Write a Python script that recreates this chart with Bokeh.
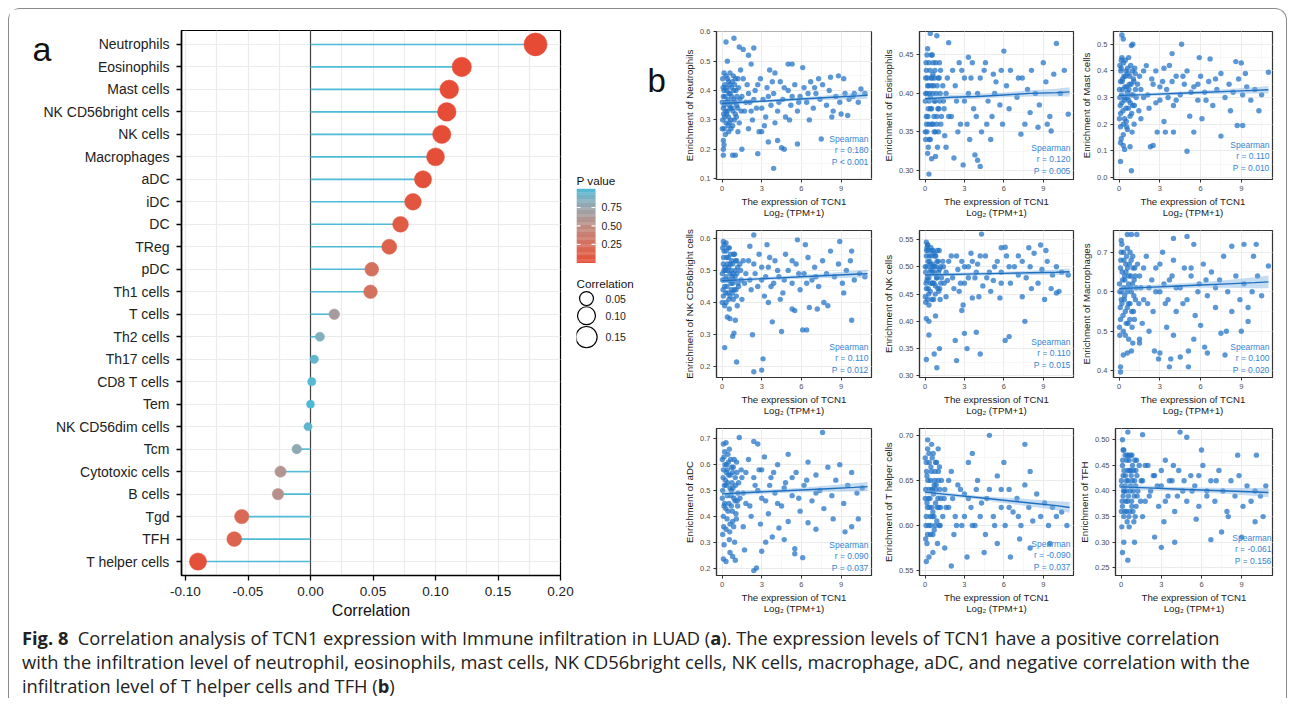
import math
from bokeh.plotting import figure
from bokeh.models import (Range1d, FactorRange, FixedTicker, SingleIntervalTicker, PrintfTickFormatter,
                          LinearColorMapper, Span, Div, ColumnDataSource)
from bokeh.models import Label
from bokeh.layouts import row, column
from bokeh.transform import transform
from bokeh.embed import file_html
from bokeh.resources import INLINE
from bokeh.core.properties import value

FONT = "Liberation Sans"
BLUE = "#2374C6"

# ---------------- panel a data ----------------
cells = ["Neutrophils", "Eosinophils", "Mast cells", "NK CD56bright cells", "NK cells", "Macrophages",
         "aDC", "iDC", "DC", "TReg", "pDC", "Th1 cells", "T cells", "Th2 cells", "Th17 cells",
         "CD8 T cells", "Tem", "NK CD56dim cells", "Tcm", "Cytotoxic cells", "B cells", "Tgd", "TFH",
         "T helper cells"]
correlation = [0.180, 0.121, 0.111, 0.109, 0.105, 0.100, 0.090, 0.082, 0.072, 0.063, 0.049, 0.048,
               0.019, 0.0075, 0.003, 0.001, 0.0, -0.002, -0.011, -0.024, -0.026, -0.055, -0.061, -0.090]
p_values = [0.0001, 0.005, 0.010, 0.012, 0.015, 0.020, 0.037, 0.06, 0.10, 0.15, 0.26, 0.27,
            0.66, 0.86, 0.95, 0.98, 1.0, 0.96, 0.80, 0.58, 0.55, 0.20, 0.156, 0.037]
corr_ticks = [-0.10, -0.05, 0.00, 0.05, 0.10, 0.15, 0.20]
pvalue_ticks = [0.25, 0.50, 0.75]
size_legend = [0.05, 0.10, 0.15]

# ---------------- panel b data ----------------
panel_names = ["Neutrophils", "Eosinophils", "Mast cells", "NK CD56bright cells", "NK cells",
               "Macrophages", "aDC", "T helper cells", "TFH"]
spearman_r = ["0.180", "0.120", "0.110", "0.110", "0.110", "0.100", "0.090", "-0.090", "-0.061"]
spearman_p = ["P < 0.001", "P = 0.005", "P = 0.010", "P = 0.012", "P = 0.015", "P = 0.020",
              "P = 0.037", "P = 0.037", "P = 0.156"]
fit_x = [0, 2, 4, 6, 8, 10, 11]

neutrophils_pts = [
    (0.05, 0.30), (0.1, 0.34), (0.1, 0.38), (0.15, 0.27), (0.2, 0.42), (0.2, 0.31), (0.25, 0.36), (0.3, 0.45),
    (0.3, 0.29), (0.35, 0.40), (0.4, 0.33), (0.45, 0.37), (0.5, 0.26), (0.5, 0.43), (0.55, 0.35), (0.6, 0.39),
    (0.65, 0.30), (0.7, 0.41), (0.75, 0.34), (0.8, 0.28), (0.85, 0.45), (0.9, 0.37), (1.0, 0.32), (1.05, 0.40),
    (1.1, 0.35), (1.2, 0.44), (1.3, 0.29), (0.05, 0.44), (0.15, 0.40), (0.35, 0.32), (0.6, 0.46), (0.95, 0.42),
    (0.25, 0.25), (0.45, 0.28), (0.7, 0.36), (0.1, 0.23),
    (0.02, 0.36), (0.08, 0.41), (0.12, 0.32), (0.18, 0.35), (0.22, 0.38), (0.28, 0.33), (0.32, 0.41), (0.38, 0.36),
    (0.42, 0.44), (0.48, 0.31), (0.52, 0.39), (0.58, 0.42), (0.62, 0.34), (0.68, 0.27), (0.72, 0.38), (0.78, 0.43),
    (0.82, 0.33), (0.88, 0.40), (0.92, 0.30), (0.98, 0.36), (1.02, 0.44), (1.08, 0.31), (1.12, 0.38), (1.18, 0.34),
    (1.25, 0.41), (1.35, 0.37), (1.45, 0.33), (0.02, 0.27), (0.15, 0.46), (0.55, 0.29),
    (1.5, 0.38), (1.7, 0.33), (1.9, 0.42), (2.1, 0.36), (2.3, 0.30), (2.5, 0.40), (2.6, 0.34), (2.9, 0.44),
    (3.1, 0.37), (3.3, 0.31), (3.4, 0.41), (3.7, 0.35), (3.9, 0.39), (4.2, 0.33), (4.4, 0.43), (4.6, 0.37),
    (4.8, 0.31), (5.0, 0.40), (5.2, 0.35), (5.5, 0.42), (5.7, 0.33), (5.9, 0.38), (1.4, 0.47), (2.0, 0.27),
    (3.2, 0.28), (4.0, 0.29), (5.1, 0.30),
    (1.6, 0.44), (1.8, 0.36), (2.0, 0.39), (2.2, 0.33), (2.4, 0.37), (2.7, 0.42), (3.0, 0.34), (3.5, 0.38),
    (3.8, 0.43), (4.3, 0.36), (4.7, 0.41), (5.3, 0.38), (5.8, 0.36), (6.5, 0.39), (7.0, 0.41),
    (6.2, 0.41), (6.4, 0.36), (6.7, 0.43), (6.9, 0.34), (7.1, 0.39), (7.4, 0.37), (7.6, 0.42), (7.9, 0.35),
    (8.1, 0.40), (8.4, 0.33), (8.6, 0.38), (8.9, 0.36), (9.3, 0.39), (9.6, 0.37), (9.9, 0.38), (10.3, 0.36),
    (10.8, 0.39), (8.2, 0.445),
    (0.3, 0.565), (0.9, 0.578), (1.3, 0.548), (1.6, 0.54), (2.0, 0.52), (2.4, 0.545), (0.4, 0.50), (2.2, 0.49),
    (5.0, 0.49), (5.3, 0.49), (6.1, 0.478), (4.0, 0.46), (7.3, 0.44), (8.8, 0.45), (9.2, 0.44), (3.6, 0.47),
    (10.0, 0.39), (10.5, 0.405), (3.9, 0.135), (2.7, 0.185), (0.8, 0.18), (1.0, 0.18), (0.1, 0.18), (0.1, 0.20),
    (0.15, 0.215), (4.5, 0.205), (4.7, 0.20), (5.7, 0.218), (1.5, 0.20), (3.5, 0.225), (4.2, 0.23), (7.5, 0.235),
    (1.2, 0.26), (2.8, 0.26), (3.0, 0.26), (6.6, 0.30), (8.3, 0.31), (9.0, 0.32), (9.5, 0.315),
]
neutrophils_fit = [0.356, 0.361, 0.366, 0.371, 0.376, 0.381, 0.384]
neutrophils_ci = [0.008, 0.005, 0.005, 0.006, 0.008, 0.011, 0.012]

eosinophils_pts = [
    (0.05, 0.40), (0.1, 0.37), (0.1, 0.43), (0.15, 0.35), (0.2, 0.41), (0.25, 0.38), (0.3, 0.44), (0.3, 0.36),
    (0.35, 0.40), (0.4, 0.34), (0.45, 0.42), (0.5, 0.38), (0.55, 0.45), (0.6, 0.36), (0.65, 0.41), (0.7, 0.39),
    (0.75, 0.43), (0.8, 0.35), (0.85, 0.40), (0.9, 0.37), (1.0, 0.42), (1.05, 0.38), (1.1, 0.44), (1.2, 0.36),
    (0.05, 0.34), (0.15, 0.45), (0.4, 0.395), (0.6, 0.425), (0.95, 0.33), (0.25, 0.33), (0.7, 0.35), (1.15, 0.40),
    (0.5, 0.41), (0.05, 0.42), (0.3, 0.39),
    (0.02, 0.39), (0.08, 0.44), (0.12, 0.36), (0.18, 0.42), (0.22, 0.37), (0.28, 0.41), (0.32, 0.34), (0.38, 0.43),
    (0.42, 0.38), (0.48, 0.45), (0.52, 0.36), (0.58, 0.40), (0.62, 0.44), (0.68, 0.37), (0.72, 0.42), (0.78, 0.39),
    (0.82, 0.44), (0.88, 0.36), (0.92, 0.41), (0.98, 0.38), (1.02, 0.35), (1.08, 0.42), (1.12, 0.39), (1.18, 0.43),
    (1.25, 0.37), (1.35, 0.41), (1.45, 0.38), (0.02, 0.35), (0.15, 0.40), (0.55, 0.42),
    (1.4, 0.39), (1.7, 0.42), (2.0, 0.37), (2.3, 0.41), (2.5, 0.35), (2.8, 0.43), (3.0, 0.39), (3.2, 0.36),
    (3.5, 0.42), (3.7, 0.38), (4.0, 0.40), (4.3, 0.35), (4.5, 0.43), (4.8, 0.39), (5.1, 0.37), (5.4, 0.415),
    (5.7, 0.385), (5.9, 0.36), (1.5, 0.345), (2.6, 0.44), (4.6, 0.44), (5.2, 0.425), (3.4, 0.34),
    (1.6, 0.40), (1.8, 0.37), (2.1, 0.43), (2.4, 0.39), (2.7, 0.36), (3.0, 0.42), (3.3, 0.40), (3.6, 0.44),
    (3.9, 0.37), (4.2, 0.42), (4.7, 0.36), (5.3, 0.40), (5.8, 0.43), (6.4, 0.38), (7.1, 0.42),
    (6.2, 0.41), (6.5, 0.43), (7.0, 0.395), (7.4, 0.42), (7.8, 0.405), (8.1, 0.43), (8.4, 0.40), (8.7, 0.385),
    (9.0, 0.44), (9.2, 0.415), (9.5, 0.37), (9.8, 0.425), (10.3, 0.40), (10.6, 0.43), (8.0, 0.375), (7.6, 0.36),
    (0.4, 0.478), (0.9, 0.475), (0.2, 0.458), (1.8, 0.466), (10.0, 0.465), (6.0, 0.455), (3.3, 0.447),
    (0.3, 0.295), (0.5, 0.315), (0.2, 0.322), (0.8, 0.318), (2.2, 0.316), (2.9, 0.307), (4.2, 0.305),
    (3.8, 0.32), (4.0, 0.313), (1.6, 0.33), (5.0, 0.34), (7.3, 0.347), (8.6, 0.356), (9.3, 0.36), (9.6, 0.351),
    (10.9, 0.373),
]
eosinophils_fit = [0.393, 0.395, 0.396, 0.398, 0.400, 0.401, 0.402]
eosinophils_ci = [0.004, 0.003, 0.003, 0.003, 0.004, 0.005, 0.006]

mast_pts = [
    (0.05, 0.30), (0.1, 0.36), (0.1, 0.24), (0.15, 0.41), (0.2, 0.28), (0.25, 0.33), (0.3, 0.20), (0.35, 0.38),
    (0.4, 0.30), (0.45, 0.44), (0.5, 0.26), (0.55, 0.34), (0.6, 0.18), (0.65, 0.39), (0.7, 0.29), (0.75, 0.35),
    (0.8, 0.23), (0.85, 0.42), (0.9, 0.31), (1.0, 0.27), (1.05, 0.37), (1.1, 0.20), (1.2, 0.33), (0.05, 0.42),
    (0.2, 0.45), (0.3, 0.16), (0.5, 0.40), (0.7, 0.45), (0.95, 0.17), (1.15, 0.41), (0.4, 0.22), (0.6, 0.32),
    (0.25, 0.37), (0.1, 0.19),
    (0.02, 0.33), (0.08, 0.27), (0.12, 0.40), (0.18, 0.31), (0.22, 0.36), (0.28, 0.25), (0.32, 0.43), (0.38, 0.29),
    (0.42, 0.34), (0.48, 0.38), (0.52, 0.21), (0.58, 0.30), (0.62, 0.41), (0.68, 0.26), (0.72, 0.33), (0.78, 0.38),
    (0.82, 0.28), (0.88, 0.35), (0.92, 0.24), (0.98, 0.40), (1.02, 0.31), (1.08, 0.36), (1.12, 0.27), (1.18, 0.39),
    (1.25, 0.30), (1.35, 0.35), (1.45, 0.25), (0.02, 0.22), (0.15, 0.44), (0.55, 0.19),
    (1.5, 0.38), (1.8, 0.30), (2.0, 0.42), (2.2, 0.26), (2.5, 0.35), (2.7, 0.40), (3.0, 0.29), (3.2, 0.36),
    (3.5, 0.33), (3.7, 0.42), (4.0, 0.27), (4.2, 0.38), (4.5, 0.31), (4.8, 0.35), (5.0, 0.40), (5.2, 0.23),
    (5.5, 0.34), (5.8, 0.29), (6.0, 0.38), (6.3, 0.32), (6.6, 0.36), (6.9, 0.27), (7.2, 0.33), (7.5, 0.39),
    (7.8, 0.30), (8.1, 0.35), (8.4, 0.32), (8.8, 0.37), (9.1, 0.31), (9.4, 0.34), (9.7, 0.29), (10.0, 0.33),
    (10.5, 0.31), (1.6, 0.22), (3.3, 0.21), (6.1, 0.22), (8.2, 0.25), (9.3, 0.39),
    (1.6, 0.33), (1.8, 0.40), (2.1, 0.31), (2.4, 0.37), (2.7, 0.28), (3.0, 0.34), (3.3, 0.41), (3.6, 0.30),
    (3.9, 0.36), (4.2, 0.29), (4.7, 0.38), (5.3, 0.32), (5.8, 0.35), (6.4, 0.29), (7.1, 0.37),
    (0.2, 0.535), (0.3, 0.52), (0.9, 0.495), (1.0, 0.50), (0.1, 0.06), (0.9, 0.025), (0.3, 0.12), (0.4, 0.105),
    (0.8, 0.115), (0.1, 0.13), (0.15, 0.145), (2.3, 0.115), (2.5, 0.12), (5.0, 0.098), (4.6, 0.50), (3.9, 0.465),
    (5.9, 0.45), (6.7, 0.445), (8.6, 0.435), (9.0, 0.43), (11.0, 0.395), (7.5, 0.155), (8.7, 0.195), (9.1, 0.195),
    (10.3, 0.25), (3.4, 0.17), (4.0, 0.17), (5.5, 0.17), (2.8, 0.17),
]
mast_fit = [0.308, 0.311, 0.315, 0.319, 0.323, 0.327, 0.329]
mast_ci = [0.008, 0.006, 0.006, 0.007, 0.009, 0.012, 0.014]

nkbright_pts = [
    (0.05, 0.47), (0.1, 0.52), (0.1, 0.42), (0.15, 0.56), (0.2, 0.45), (0.25, 0.50), (0.3, 0.40), (0.35, 0.54),
    (0.4, 0.47), (0.45, 0.43), (0.5, 0.51), (0.55, 0.38), (0.6, 0.49), (0.65, 0.55), (0.7, 0.44), (0.75, 0.48),
    (0.8, 0.52), (0.85, 0.41), (0.9, 0.47), (1.0, 0.50), (1.05, 0.44), (1.1, 0.53), (1.2, 0.46), (0.05, 0.57),
    (0.2, 0.39), (0.3, 0.48), (0.45, 0.57), (0.6, 0.42), (0.8, 0.46), (0.95, 0.55), (1.15, 0.39), (0.15, 0.50),
    (0.4, 0.52), (0.7, 0.50),
    (0.02, 0.49), (0.08, 0.44), (0.12, 0.54), (0.18, 0.47), (0.22, 0.51), (0.28, 0.43), (0.32, 0.56), (0.38, 0.45),
    (0.42, 0.50), (0.48, 0.54), (0.52, 0.41), (0.58, 0.47), (0.62, 0.52), (0.68, 0.46), (0.72, 0.53), (0.78, 0.43),
    (0.82, 0.49), (0.88, 0.55), (0.92, 0.44), (0.98, 0.48), (1.02, 0.53), (1.08, 0.42), (1.12, 0.49), (1.18, 0.51),
    (1.25, 0.45), (1.35, 0.52), (1.45, 0.47), (0.02, 0.40), (0.15, 0.58), (0.55, 0.57),
    (1.4, 0.50), (1.7, 0.46), (2.0, 0.53), (2.2, 0.44), (2.5, 0.49), (2.8, 0.55), (3.0, 0.47), (3.2, 0.42),
    (3.5, 0.51), (3.7, 0.45), (4.0, 0.53), (4.3, 0.48), (4.6, 0.43), (4.8, 0.55), (5.0, 0.50), (5.3, 0.46),
    (5.6, 0.52), (5.9, 0.44), (6.2, 0.49), (6.5, 0.54), (6.8, 0.47), (7.0, 0.51), (7.3, 0.45), (7.6, 0.53),
    (7.9, 0.49), (8.2, 0.56), (8.5, 0.48), (8.8, 0.52), (9.1, 0.46), (9.4, 0.50), (9.7, 0.53), (10.0, 0.47),
    (10.4, 0.49), (10.8, 0.48), (1.5, 0.41), (3.5, 0.40), (4.4, 0.41), (9.2, 0.43),
    (1.6, 0.53), (1.8, 0.49), (2.1, 0.47), (2.4, 0.52), (2.7, 0.45), (3.0, 0.51), (3.3, 0.48), (3.6, 0.54),
    (3.9, 0.46), (4.2, 0.50), (4.7, 0.47), (5.3, 0.53), (5.8, 0.49), (6.4, 0.46), (7.1, 0.48),
    (2.4, 0.61), (2.1, 0.575), (0.3, 0.585), (0.1, 0.59), (3.4, 0.58), (5.7, 0.595), (8.9, 0.59), (9.8, 0.56),
    (6.3, 0.58), (0.2, 0.26), (1.1, 0.215), (2.4, 0.185), (3.0, 0.19), (3.1, 0.225), (0.8, 0.295), (0.9, 0.305),
    (2.3, 0.30), (4.5, 0.31), (6.1, 0.315), (6.4, 0.315), (3.8, 0.34), (1.0, 0.345), (0.4, 0.355), (0.6, 0.35),
    (9.8, 0.345), (5.3, 0.38), (5.5, 0.375), (6.6, 0.385), (7.2, 0.38), (8.0, 0.39), (7.7, 0.40),
]
nkbright_fit = [0.468, 0.472, 0.476, 0.480, 0.484, 0.488, 0.490]
nkbright_ci = [0.007, 0.005, 0.005, 0.006, 0.008, 0.011, 0.012]

nk_pts = [
    (0.05, 0.49), (0.1, 0.52), (0.1, 0.46), (0.15, 0.50), (0.2, 0.44), (0.25, 0.53), (0.3, 0.48), (0.35, 0.51),
    (0.4, 0.455), (0.45, 0.495), (0.5, 0.53), (0.55, 0.47), (0.6, 0.505), (0.65, 0.44), (0.7, 0.49), (0.75, 0.52),
    (0.8, 0.465), (0.85, 0.50), (0.9, 0.48), (1.0, 0.51), (1.05, 0.455), (1.1, 0.495), (1.2, 0.47), (0.05, 0.435),
    (0.2, 0.54), (0.3, 0.43), (0.45, 0.535), (0.6, 0.47), (0.95, 0.53), (1.15, 0.44), (0.15, 0.475), (0.4, 0.505),
    (0.7, 0.525), (0.25, 0.46),
    (0.02, 0.50), (0.08, 0.47), (0.12, 0.53), (0.18, 0.48), (0.22, 0.51), (0.28, 0.45), (0.32, 0.52), (0.38, 0.49),
    (0.42, 0.47), (0.48, 0.52), (0.52, 0.44), (0.58, 0.49), (0.62, 0.53), (0.68, 0.47), (0.72, 0.50), (0.78, 0.45),
    (0.82, 0.52), (0.88, 0.48), (0.92, 0.51), (0.98, 0.46), (1.02, 0.49), (1.08, 0.53), (1.12, 0.46), (1.18, 0.50),
    (1.25, 0.48), (1.35, 0.51), (1.45, 0.47), (0.02, 0.445), (0.15, 0.535), (0.55, 0.50),
    (1.4, 0.50), (1.7, 0.475), (2.0, 0.52), (2.2, 0.46), (2.5, 0.495), (2.8, 0.51), (3.0, 0.47), (3.3, 0.50),
    (3.5, 0.525), (3.8, 0.48), (4.0, 0.505), (4.4, 0.465), (4.6, 0.52), (4.9, 0.49), (5.2, 0.475), (5.5, 0.51),
    (5.8, 0.49), (6.2, 0.52), (6.5, 0.47), (6.8, 0.50), (7.1, 0.485), (7.4, 0.51), (7.7, 0.48), (8.0, 0.50),
    (8.3, 0.525), (8.6, 0.47), (8.9, 0.495), (9.3, 0.51), (9.7, 0.485), (10.0, 0.50), (10.4, 0.49), (10.9, 0.485),
    (1.6, 0.445), (2.6, 0.455), (5.0, 0.455), (8.1, 0.46),
    (1.6, 0.49), (1.8, 0.51), (2.1, 0.48), (2.4, 0.52), (2.7, 0.47), (3.0, 0.50), (3.3, 0.48), (3.6, 0.51),
    (3.9, 0.49), (4.2, 0.52), (4.7, 0.48), (5.3, 0.50), (5.8, 0.47), (6.4, 0.50), (7.1, 0.52),
    (4.3, 0.56), (0.1, 0.545), (0.2, 0.54), (6.1, 0.536), (5.8, 0.535), (7.9, 0.535), (8.8, 0.54), (9.2, 0.53),
    (0.1, 0.405), (0.3, 0.40), (0.8, 0.41), (0.3, 0.375), (0.1, 0.33), (0.7, 0.34), (0.9, 0.315), (1.1, 0.35),
    (2.4, 0.328), (2.3, 0.365), (3.0, 0.378), (3.2, 0.35), (3.9, 0.38), (4.2, 0.34), (6.1, 0.365), (6.4, 0.372),
    (7.6, 0.40), (2.9, 0.43), (2.8, 0.42), (3.6, 0.443), (4.1, 0.445), (5.7, 0.443), (7.4, 0.445), (9.1, 0.44),
    (9.6, 0.46), (10.0, 0.452), (10.2, 0.455),
]
nk_fit = [0.485, 0.486, 0.487, 0.488, 0.489, 0.490, 0.491]
nk_ci = [0.004, 0.003, 0.003, 0.003, 0.004, 0.005, 0.006]

macrophages_pts = [
    (0.05, 0.60), (0.1, 0.66), (0.1, 0.53), (0.15, 0.70), (0.2, 0.57), (0.25, 0.63), (0.3, 0.50), (0.35, 0.68),
    (0.4, 0.59), (0.45, 0.55), (0.5, 0.65), (0.55, 0.61), (0.6, 0.71), (0.65, 0.52), (0.7, 0.62), (0.75, 0.67),
    (0.8, 0.57), (0.85, 0.64), (0.9, 0.60), (1.0, 0.69), (1.05, 0.55), (1.1, 0.63), (1.2, 0.58), (0.05, 0.49),
    (0.2, 0.72), (0.3, 0.61), (0.45, 0.49), (0.6, 0.56), (0.8, 0.70), (0.95, 0.51), (1.15, 0.66), (0.15, 0.58),
    (0.4, 0.64), (0.7, 0.48),
    (0.02, 0.62), (0.08, 0.56), (0.12, 0.68), (0.18, 0.60), (0.22, 0.65), (0.28, 0.54), (0.32, 0.70), (0.38, 0.58),
    (0.42, 0.63), (0.48, 0.67), (0.52, 0.52), (0.58, 0.60), (0.62, 0.66), (0.68, 0.57), (0.72, 0.64), (0.78, 0.53),
    (0.82, 0.61), (0.88, 0.68), (0.92, 0.55), (0.98, 0.62), (1.02, 0.66), (1.08, 0.59), (1.12, 0.53), (1.18, 0.64),
    (1.25, 0.61), (1.35, 0.67), (1.45, 0.57), (0.02, 0.51), (0.15, 0.73), (0.55, 0.69),
    (1.5, 0.64), (1.8, 0.58), (2.0, 0.69), (2.2, 0.61), (2.5, 0.55), (2.7, 0.66), (3.0, 0.60), (3.2, 0.70),
    (3.4, 0.57), (3.7, 0.63), (4.0, 0.68), (4.2, 0.55), (4.5, 0.61), (4.8, 0.66), (5.0, 0.58), (5.3, 0.64),
    (5.6, 0.54), (5.9, 0.62), (6.2, 0.67), (6.5, 0.59), (6.8, 0.65), (7.1, 0.56), (7.4, 0.63), (7.7, 0.69),
    (8.0, 0.60), (8.3, 0.55), (8.6, 0.64), (8.9, 0.58), (9.2, 0.62), (9.5, 0.56), (9.8, 0.60), (10.2, 0.64),
    (10.5, 0.59), (1.7, 0.52), (3.5, 0.51), (6.0, 0.515), (9.5, 0.525),
    (1.6, 0.61), (1.8, 0.66), (2.1, 0.57), (2.4, 0.63), (2.7, 0.60), (3.0, 0.67), (3.3, 0.62), (3.6, 0.58),
    (3.9, 0.64), (4.2, 0.61), (4.7, 0.57), (5.3, 0.66), (5.8, 0.60), (6.4, 0.63), (7.1, 0.61),
    (0.1, 0.41), (0.1, 0.397), (0.6, 0.445), (0.3, 0.44), (0.9, 0.45), (1.0, 0.47), (1.5, 0.47), (1.5, 0.48),
    (2.6, 0.45), (2.9, 0.43), (3.0, 0.445), (3.8, 0.43), (4.5, 0.435), (5.1, 0.41), (5.1, 0.45), (3.7, 0.41),
    (6.3, 0.46), (6.5, 0.445), (7.8, 0.44), (2.2, 0.50), (4.0, 0.49), (5.5, 0.48), (7.5, 0.495), (7.9, 0.50),
    (9.0, 0.50), (0.6, 0.745), (0.9, 0.745), (1.3, 0.745), (4.0, 0.735), (5.0, 0.74), (5.5, 0.72), (8.3, 0.715),
    (9.2, 0.72), (10.1, 0.72), (11.0, 0.665), (9.9, 0.69),
]
macrophages_fit = [0.608, 0.611, 0.614, 0.617, 0.620, 0.623, 0.625]
macrophages_ci = [0.008, 0.006, 0.006, 0.007, 0.010, 0.014, 0.016]

adc_pts = [
    (0.05, 0.50), (0.1, 0.58), (0.1, 0.40), (0.15, 0.63), (0.2, 0.45), (0.25, 0.54), (0.3, 0.35), (0.35, 0.60),
    (0.4, 0.48), (0.45, 0.42), (0.5, 0.56), (0.55, 0.31), (0.6, 0.51), (0.65, 0.62), (0.7, 0.44), (0.75, 0.53),
    (0.8, 0.38), (0.85, 0.59), (0.9, 0.47), (1.0, 0.55), (1.05, 0.41), (1.1, 0.61), (1.2, 0.49), (0.05, 0.33),
    (0.2, 0.65), (0.3, 0.52), (0.45, 0.64), (0.6, 0.37), (0.8, 0.57), (0.95, 0.30), (1.15, 0.46), (0.15, 0.29),
    (0.4, 0.58), (0.7, 0.50),
    (0.02, 0.47), (0.08, 0.55), (0.12, 0.36), (0.18, 0.52), (0.22, 0.60), (0.28, 0.43), (0.32, 0.57), (0.38, 0.39),
    (0.42, 0.53), (0.48, 0.61), (0.52, 0.45), (0.58, 0.34), (0.62, 0.56), (0.68, 0.48), (0.72, 0.59), (0.78, 0.42),
    (0.82, 0.51), (0.88, 0.36), (0.92, 0.62), (0.98, 0.46), (1.02, 0.52), (1.08, 0.39), (1.12, 0.57), (1.18, 0.44),
    (1.25, 0.53), (1.35, 0.47), (1.45, 0.58), (0.02, 0.62), (0.15, 0.44), (0.55, 0.66),
    (1.5, 0.55), (1.8, 0.45), (2.0, 0.62), (2.2, 0.40), (2.5, 0.52), (2.8, 0.58), (3.0, 0.47), (3.2, 0.63),
    (3.5, 0.41), (3.7, 0.55), (4.0, 0.49), (4.2, 0.60), (4.5, 0.44), (4.8, 0.53), (5.0, 0.64), (5.3, 0.48),
    (5.6, 0.57), (5.9, 0.42), (6.2, 0.52), (6.5, 0.61), (6.8, 0.46), (7.1, 0.56), (7.4, 0.50), (7.7, 0.43),
    (8.0, 0.59), (8.3, 0.48), (8.6, 0.54), (8.9, 0.60), (9.2, 0.45), (9.5, 0.52), (9.8, 0.57), (10.2, 0.49),
    (10.6, 0.51), (1.6, 0.36), (2.9, 0.37), (5.0, 0.38), (8.4, 0.39),
    (1.6, 0.49), (1.8, 0.57), (2.1, 0.44), (2.4, 0.55), (2.7, 0.50), (3.0, 0.58), (3.3, 0.46), (3.6, 0.52),
    (3.9, 0.57), (4.2, 0.45), (4.7, 0.51), (5.3, 0.55), (5.8, 0.47), (6.4, 0.54), (7.1, 0.49),
    (7.6, 0.725), (1.3, 0.705), (2.4, 0.69), (2.7, 0.68), (0.1, 0.68), (0.3, 0.685), (0.1, 0.235), (0.3, 0.225),
    (0.6, 0.26), (0.8, 0.245), (1.0, 0.23), (2.4, 0.19), (2.6, 0.20), (3.0, 0.265), (3.3, 0.30), (4.7, 0.31),
    (5.5, 0.275), (5.5, 0.255), (6.1, 0.24), (9.3, 0.34), (9.8, 0.36), (10.3, 0.39), (7.1, 0.35), (6.5, 0.375),
    (1.7, 0.27), (3.8, 0.32), (4.3, 0.355),
]
adc_fit = [0.487, 0.492, 0.497, 0.502, 0.507, 0.512, 0.515]
adc_ci = [0.010, 0.008, 0.008, 0.009, 0.012, 0.016, 0.018]

thelper_pts = [
    (0.05, 0.64), (0.1, 0.67), (0.1, 0.61), (0.15, 0.655), (0.2, 0.59), (0.25, 0.63), (0.3, 0.68), (0.35, 0.62),
    (0.4, 0.65), (0.45, 0.60), (0.5, 0.64), (0.55, 0.675), (0.6, 0.615), (0.65, 0.635), (0.7, 0.595), (0.75, 0.66),
    (0.8, 0.625), (0.85, 0.645), (0.9, 0.605), (1.0, 0.65), (1.05, 0.62), (1.1, 0.665), (1.2, 0.63), (0.05, 0.585),
    (0.2, 0.685), (0.3, 0.64), (0.45, 0.665), (0.6, 0.59), (0.8, 0.67), (0.95, 0.58), (1.15, 0.60), (0.15, 0.625),
    (0.4, 0.61), (0.7, 0.645),
    (0.02, 0.63), (0.08, 0.60), (0.12, 0.66), (0.18, 0.62), (0.22, 0.65), (0.28, 0.60), (0.32, 0.67), (0.38, 0.63),
    (0.42, 0.59), (0.48, 0.66), (0.52, 0.62), (0.58, 0.64), (0.62, 0.68), (0.68, 0.61), (0.72, 0.65), (0.78, 0.60),
    (0.82, 0.64), (0.88, 0.67), (0.92, 0.62), (0.98, 0.63), (1.02, 0.66), (1.08, 0.60), (1.12, 0.64), (1.18, 0.62),
    (1.25, 0.65), (1.35, 0.61), (1.45, 0.63), (0.02, 0.675), (0.15, 0.58), (0.55, 0.61),
    (1.5, 0.64), (1.8, 0.62), (2.0, 0.66), (2.3, 0.61), (2.5, 0.645), (2.8, 0.60), (3.0, 0.635), (3.3, 0.67),
    (3.5, 0.62), (3.8, 0.60), (4.0, 0.65), (4.3, 0.625), (4.6, 0.59), (4.9, 0.64), (5.2, 0.61), (5.5, 0.655),
    (5.8, 0.62), (6.1, 0.60), (6.4, 0.64), (6.7, 0.615), (7.0, 0.63), (7.3, 0.60), (7.6, 0.645), (7.9, 0.62),
    (8.2, 0.605), (8.5, 0.635), (8.8, 0.61), (9.1, 0.625), (9.4, 0.60), (9.7, 0.62), (10.0, 0.61), (10.4, 0.615),
    (10.8, 0.60), (3.6, 0.68), (6.0, 0.67), (8.0, 0.66), (2.2, 0.59), (7.2, 0.585),
    (1.6, 0.62), (1.8, 0.65), (2.1, 0.63), (2.4, 0.60), (2.7, 0.64), (3.0, 0.61), (3.3, 0.63), (3.6, 0.60),
    (3.9, 0.64), (4.2, 0.61), (4.7, 0.63), (5.3, 0.60), (5.8, 0.64), (6.4, 0.62), (7.1, 0.61),
    (0.2, 0.695), (4.9, 0.70), (0.5, 0.69), (1.0, 0.685), (7.6, 0.69), (0.1, 0.56), (0.3, 0.565), (0.6, 0.57),
    (2.0, 0.555), (3.2, 0.565), (4.5, 0.57), (6.5, 0.565), (8.0, 0.575), (9.5, 0.58), (1.5, 0.575), (5.5, 0.58),
]
thelper_fit = [0.637, 0.634, 0.631, 0.628, 0.625, 0.622, 0.620]
thelper_ci = [0.003, 0.002, 0.002, 0.003, 0.004, 0.005, 0.006]

tfh_pts = [
    (0.05, 0.41), (0.1, 0.45), (0.1, 0.37), (0.15, 0.43), (0.2, 0.35), (0.25, 0.40), (0.3, 0.47), (0.35, 0.38),
    (0.4, 0.42), (0.45, 0.34), (0.5, 0.44), (0.55, 0.39), (0.6, 0.46), (0.65, 0.36), (0.7, 0.41), (0.75, 0.43),
    (0.8, 0.37), (0.85, 0.45), (0.9, 0.40), (1.0, 0.42), (1.05, 0.35), (1.1, 0.44), (1.2, 0.39), (0.05, 0.33),
    (0.2, 0.48), (0.3, 0.41), (0.45, 0.47), (0.6, 0.33), (0.8, 0.47), (0.95, 0.34), (1.15, 0.46), (0.15, 0.39),
    (0.4, 0.36), (0.7, 0.44),
    (0.02, 0.42), (0.08, 0.38), (0.12, 0.46), (0.18, 0.40), (0.22, 0.44), (0.28, 0.36), (0.32, 0.43), (0.38, 0.40),
    (0.42, 0.46), (0.48, 0.38), (0.52, 0.42), (0.58, 0.35), (0.62, 0.44), (0.68, 0.40), (0.72, 0.47), (0.78, 0.38),
    (0.82, 0.42), (0.88, 0.36), (0.92, 0.44), (0.98, 0.39), (1.02, 0.46), (1.08, 0.41), (1.12, 0.37), (1.18, 0.43),
    (1.25, 0.40), (1.35, 0.45), (1.45, 0.38), (0.02, 0.36), (0.15, 0.48), (0.55, 0.47),
    (1.5, 0.42), (1.8, 0.38), (2.0, 0.45), (2.2, 0.40), (2.5, 0.43), (2.8, 0.37), (3.0, 0.41), (3.3, 0.46),
    (3.5, 0.39), (3.8, 0.42), (4.0, 0.36), (4.3, 0.44), (4.6, 0.40), (4.9, 0.38), (5.2, 0.43), (5.5, 0.41),
    (5.8, 0.37), (6.1, 0.45), (6.4, 0.40), (6.7, 0.42), (7.0, 0.38), (7.3, 0.44), (7.6, 0.40), (7.9, 0.36),
    (8.2, 0.42), (8.5, 0.39), (8.8, 0.43), (9.1, 0.37), (9.4, 0.41), (9.7, 0.38), (10.0, 0.40), (10.4, 0.39),
    (10.8, 0.41), (1.6, 0.35), (3.2, 0.34), (5.6, 0.345), (8.0, 0.35), (6.0, 0.48), (8.7, 0.47),
    (1.6, 0.42), (1.8, 0.45), (2.1, 0.39), (2.4, 0.43), (2.7, 0.41), (3.0, 0.44), (3.3, 0.38), (3.6, 0.42),
    (3.9, 0.45), (4.2, 0.39), (4.7, 0.42), (5.3, 0.40), (5.8, 0.43), (6.4, 0.39), (7.1, 0.42),
    (0.5, 0.515), (1.6, 0.51), (4.4, 0.515), (4.9, 0.505), (0.1, 0.50), (10.1, 0.47), (0.1, 0.28), (0.5, 0.265),
    (0.2, 0.30), (1.0, 0.30), (3.0, 0.29), (2.5, 0.31), (4.0, 0.30), (6.7, 0.305), (9.0, 0.31), (7.5, 0.32),
    (10.0, 0.34), (10.6, 0.35),
]
tfh_fit = [0.408, 0.406, 0.404, 0.402, 0.400, 0.398, 0.397]
tfh_ci = [0.005, 0.004, 0.004, 0.005, 0.006, 0.008, 0.009]

panel_points = [neutrophils_pts, eosinophils_pts, mast_pts, nkbright_pts, nk_pts, macrophages_pts,
                adc_pts, thelper_pts, tfh_pts]
panel_fits = [neutrophils_fit, eosinophils_fit, mast_fit, nkbright_fit, nk_fit, macrophages_fit,
              adc_fit, thelper_fit, tfh_fit]
panel_cis = [neutrophils_ci, eosinophils_ci, mast_ci, nkbright_ci, nk_ci, macrophages_ci,
             adc_ci, thelper_ci, tfh_ci]
y_limits = [(0.097, 0.601), (0.288, 0.4805), (-0.008, 0.548), (0.167, 0.624), (0.297, 0.5666),
            (0.383, 0.755), (0.171, 0.74), (0.5445, 0.7076), (0.235, 0.522)]
y_steps = [0.1, 0.05, 0.1, 0.1, 0.05, 0.1, 0.1, 0.05, 0.05]
y_formats = ["%.1f", "%.2f", "%.1f", "%.1f", "%.2f", "%.1f", "%.1f", "%.2f", "%.2f"]


# ---------------- helpers (colour scale, size scale) ----------------
def _hex_rgb(h):
    h = h.lstrip("#")
    return [int(h[i:i + 2], 16) for i in (0, 2, 4)]


def _to_lab(h):
    def lin(c):
        c = c / 255.0
        return c / 12.92 if c <= 0.04045 else ((c + 0.055) / 1.055) ** 2.4
    r, g, b = [lin(c) for c in _hex_rgb(h)]
    X = (0.4124 * r + 0.3576 * g + 0.1805 * b) / 0.95047
    Y = 0.2126 * r + 0.7152 * g + 0.0722 * b
    Z = (0.0193 * r + 0.1192 * g + 0.9505 * b) / 1.08883
    f = lambda t: t ** (1 / 3) if t > 0.008856 else 7.787 * t + 16 / 116
    fx, fy, fz = f(X), f(Y), f(Z)
    return 116 * fy - 16, 500 * (fx - fy), 200 * (fy - fz)


def _from_lab(L, a, b):
    fy = (L + 16) / 116
    fx = fy + a / 500
    fz = fy - b / 200
    finv = lambda t: t ** 3 if t ** 3 > 0.008856 else (t - 16 / 116) / 7.787
    X = 0.95047 * finv(fx)
    Y = finv(fy)
    Z = 1.08883 * finv(fz)
    r = 3.2406 * X - 1.5372 * Y - 0.4986 * Z
    g = -0.9689 * X + 1.8758 * Y + 0.0415 * Z
    bb = 0.0557 * X - 0.2040 * Y + 1.0570 * Z

    def enc(c):
        c = 12.92 * c if c <= 0.0031308 else 1.055 * c ** (1 / 2.4) - 0.055
        return max(0, min(255, int(round(c * 255))))
    return "#%02x%02x%02x" % (enc(r), enc(g), enc(bb))


def lab_palette(lo, hi, n):
    A, B = _to_lab(lo), _to_lab(hi)
    return [_from_lab(*[A[k] + (B[k] - A[k]) * i / (n - 1) for k in range(3)]) for i in range(n)]


def dot_size(r):
    return math.sqrt(64 + 2583 * abs(r))


cmap = LinearColorMapper(palette=lab_palette("#E64B35", "#4DBBD5", 256), low=0, high=1)

# ---------------- panel a ----------------
src_a = ColumnDataSource(dict(cell=cells, r=correlation, p=p_values,
                              d=[dot_size(v) for v in correlation], zero=[0.0] * len(cells)))
pa = figure(width=567, height=612, y_range=FactorRange(factors=cells[::-1], range_padding=0.01),
            x_range=Range1d(-0.1032, 0.2), output_backend="svg", toolbar_location=None,
            min_border_left=172, min_border_right=16, min_border_top=21, min_border_bottom=45)
pa.xgrid.grid_line_color = "#EBEBEB"
pa.xgrid.grid_line_width = 1.2
pa.xgrid.minor_grid_line_color = "#EBEBEB"
pa.xgrid.minor_grid_line_width = 1.2
pa.ygrid.grid_line_color = "#EBEBEB"
pa.ygrid.grid_line_width = 1.2
pa.add_layout(Span(location=0, dimension="height", line_color="#444444", line_width=1.2, level="underlay"))
pa.segment(x0="zero", y0="cell", x1="r", y1="cell", source=src_a, line_color="#4DBBD5", line_width=1.6)
pa.scatter(x="r", y="cell", size="d", source=src_a, fill_color=transform("p", cmap),
           line_color=transform("p", cmap), line_width=0.5)
pa.xaxis.ticker = FixedTicker(ticks=corr_ticks,
                              minor_ticks=[(a + b) / 2 for a, b in zip(corr_ticks, corr_ticks[1:])])
pa.xaxis.formatter = PrintfTickFormatter(format="%.2f")
pa.xaxis.axis_label = "Correlation"
for ax in (pa.xaxis[0], pa.yaxis[0]):
    ax.axis_line_color = "black"
    ax.axis_line_width = 1.6
    ax.major_tick_line_color = "black"
    ax.major_tick_line_width = 1.3
    ax.major_tick_out = 5
    ax.major_tick_in = 0
    ax.minor_tick_line_color = None
    ax.major_label_text_font = FONT
    ax.major_label_text_color = "#222222"
    ax.axis_label_text_font = FONT
    ax.axis_label_text_font_style = "normal"
    ax.axis_label_text_color = "#111111"
pa.xaxis.major_label_text_font_size = "13.5px"
pa.xaxis.major_label_standoff = 6
pa.xaxis.axis_label_text_font_size = "16px"
pa.xaxis.axis_label_standoff = 3
pa.yaxis.major_label_text_font_size = "14px"
pa.yaxis.major_label_standoff = 7
# panel letter "a": horizontal label of the left axis, at its top end
pa.yaxis.axis_label = "\na"
pa.yaxis.axis_label_text_font_size = "34px"
pa.yaxis.axis_label_text_line_height = 0.95
pa.yaxis.axis_label_standoff = -11
try:
    pa.yaxis.axis_label_orientation = "horizontal"
    pa.yaxis.axis_label_align = "end"
except Exception:
    pass
pa.outline_line_color = "black"
pa.outline_line_width = 1.2

# ---------------- legend column (+ label b) ----------------
leg = figure(width=96, height=612, x_range=Range1d(0, 96), y_range=Range1d(612, 0),
             output_backend="svg", toolbar_location=None, min_border=0,
             x_axis_location=None, y_axis_location=None, outline_line_color=None)
leg.grid.visible = False
BAR_TOP, BAR_BOT = 178.0, 261.0
nstep = 64
steps = [(k + 0.5) / nstep for k in range(nstep)]
bar_src = ColumnDataSource(dict(
    v=steps,
    bottom=[BAR_BOT - k / nstep * (BAR_BOT - BAR_TOP) for k in range(nstep)],
    top=[BAR_BOT - (k + 1) / nstep * (BAR_BOT - BAR_TOP) - 0.3 for k in range(nstep)]))
leg.quad(left=0, right=19, bottom="bottom", top="top", fill_color=transform("v", cmap),
         line_color=None, source=bar_src)
tick_y = [BAR_BOT - t * (BAR_BOT - BAR_TOP) for t in pvalue_ticks]
leg.segment(x0=0, x1=4, y0=tick_y, y1=tick_y, line_color="white", line_width=1.2)
leg.segment(x0=15, x1=19, y0=tick_y, y1=tick_y, line_color="white", line_width=1.2)
leg.text(x=25, y=tick_y, text=["%.2f" % t for t in pvalue_ticks], text_font=value(FONT),
         text_font_size="10.5px", text_baseline="middle", text_color="#222222")
leg.text(x=0, y=[169], text=["P value"], text_font=value(FONT), text_font_size="11.7px",
         text_baseline="middle", text_color="#111111")
leg.text(x=0, y=[284], text=["Correlation"], text_font=value(FONT), text_font_size="11.7px",
         text_baseline="middle", text_color="#111111")
circ_y = [301, 320.3, 344.3]
leg.scatter(x=10, y=circ_y, size=[dot_size(s) for s in size_legend], fill_color=None,
            line_color="black", line_width=1.2)
leg.text(x=29, y=circ_y, text=["%.2f" % s for s in size_legend], text_font=value(FONT),
         text_font_size="10.5px", text_baseline="middle", text_color="#222222")
leg.text(x=71, y=[56], text=["b"], text_font=value(FONT), text_font_size="33px",
         text_baseline="alphabetic", text_color="#111111")

# ---------------- panel b: 3x3 scatter grid ----------------
col_border = [(44, 155, 2), (46, 154, 2), (38, 159, 4)]
row_border = [(22, 153, 36), (10, 152, 36), (10, 152, 36)]
text_bottom = [18, 9, 12, 8, 13, 8, 8, 9, 15]


def scatter_panel(i):
    bl, fw, br = col_border[i % 3]
    bt, fh, bb = row_border[i // 3]
    p = figure(width=bl + fw + br, height=bt + fh + bb, x_range=Range1d(-0.42, 11.3),
               y_range=Range1d(*y_limits[i]), output_backend="svg", toolbar_location=None,
               min_border_left=bl, min_border_right=br, min_border_top=bt, min_border_bottom=bb)
    xs = [pt[0] for pt in panel_points[i]]
    ys = [pt[1] for pt in panel_points[i]]
    p.scatter(xs, ys, size=5.4, fill_color=BLUE, fill_alpha=0.74, line_color=None)
    fy = panel_fits[i]
    ci = panel_cis[i]
    p.varea(x=fit_x, y1=[a - c for a, c in zip(fy, ci)], y2=[a + c for a, c in zip(fy, ci)],
            fill_color="#7FB2E3", fill_alpha=0.45)
    p.line(fit_x, fy, line_color="#1F6FBF", line_width=1.4)
    p.xaxis.ticker = SingleIntervalTicker(interval=3, num_minor_ticks=2)
    p.yaxis.ticker = SingleIntervalTicker(interval=y_steps[i], num_minor_ticks=2)
    p.yaxis.formatter = PrintfTickFormatter(format=y_formats[i])
    p.xaxis.formatter = PrintfTickFormatter(format="%d")
    p.xaxis.axis_label = "The expression of TCN1\nLog\u2082 (TPM+1)"
    p.yaxis.axis_label = "Enrichment of " + panel_names[i]
    for ax in (p.xaxis[0], p.yaxis[0]):
        ax.axis_line_color = "#333333"
        ax.axis_line_width = 1.2
        ax.major_tick_line_color = "#333333"
        ax.major_tick_out = 3
        ax.major_tick_in = 0
        ax.minor_tick_line_color = None
        ax.major_label_text_font = FONT
        ax.major_label_text_font_size = "7.5px"
        ax.major_label_text_color = "#4D4D4D"
        ax.major_label_standoff = 2
        ax.axis_label_text_font = FONT
        ax.axis_label_text_font_size = "9.7px"
        ax.axis_label_text_font_style = "normal"
        ax.axis_label_text_color = "#1A1A1A"
        ax.axis_label_text_line_height = 1.0
        ax.axis_label_standoff = 2
    p.grid.grid_line_color = "#EBEBEB"
    p.grid.minor_grid_line_color = "#F3F3F3"
    p.grid.minor_grid_line_width = 0.7
    p.outline_line_color = "#333333"
    p.outline_line_width = 1.2
    lines = ["Spearman", "r = " + spearman_r[i], spearman_p[i]]
    for k, t in enumerate(lines):
        p.add_layout(Label(x=fw - 3, y=text_bottom[i] + (2 - k) * 11.5, x_units="screen", y_units="screen",
                           text=t, text_align="right", text_baseline="middle", text_font=FONT,
                           text_font_size="8.5px", text_color="#3585D2"))
    return p


panels = [scatter_panel(i) for i in range(9)]
grid = column(row(*panels[0:3]), row(*panels[3:6]), row(*panels[6:9]))
top = row(pa, leg, grid)

caption = Div(
    text=("<b>Fig.&nbsp;8</b>&nbsp;&nbsp;Correlation analysis of TCN1 expression with Immune infiltration in LUAD "
          "(<b>a</b>). The expression levels of TCN1 have a positive correlation<br>"
          "with the infiltration level of neutrophil, eosinophils, mast cells, NK CD56bright cells, NK cells, "
          "macrophage, aDC, and negative correlation with the<br>"
          "infiltration level of T helper cells and TFH (<b>b</b>)"),
    width=1264, height=72, margin=(5, 0, 0, 13),
    styles={"font-family": "'Open Sans', 'Liberation Sans', sans-serif", "font-size": "18.3px",
            "line-height": "24px", "color": "#222222", "white-space": "nowrap"})

page = column(top, caption, margin=(8, 0, 0, 8),
              styles={"border": "1px solid #8a8a8a", "border-bottom": "none",
                      "border-radius": "12px 12px 0 0", "background-color": "white"})

open("out.html", "w").write(file_html(page, INLINE))
